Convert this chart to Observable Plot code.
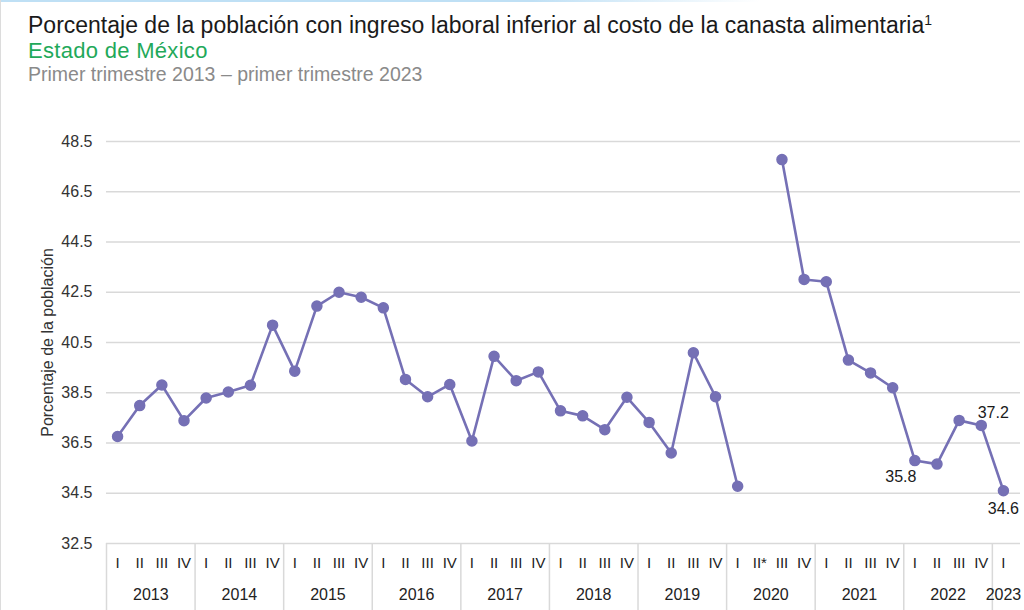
<!DOCTYPE html>
<html>
<head>
<meta charset="utf-8">
<script src="https://cdn.jsdelivr.net/npm/d3@7"></script>
<script src="https://cdn.jsdelivr.net/npm/@observablehq/plot@0.6"></script>
<style>
  html, body { margin: 0; padding: 0; background: #fff; }
  body { width: 1024px; height: 610px; position: relative; overflow: hidden; font-family: "Liberation Sans", Arial, sans-serif; }
  .topline { position: absolute; left: 0; top: 0; width: 760px; height: 2px; background: linear-gradient(to right, #bfe0f5 0%, #bfe0f5 70%, rgba(191,224,245,0) 100%); }
  .leftline { position: absolute; left: 0; top: 0; width: 1px; height: 610px; background: #dcdcdc; }
  .t { position: absolute; left: 28px; white-space: nowrap; line-height: 1; }
  #title { top: 14px; font-size: 23px; color: #1a1a1a; }
  #title sup { font-size: 14px; vertical-align: 8px; line-height: 0; }
  #sub { top: 40px; font-size: 22px; color: #1fa95a; letter-spacing: 0.3px; }
  #sub2 { top: 64.5px; font-size: 19.5px; color: #8a8a8a; }
  #chart { position: absolute; left: 0; top: 95px; }
  #chart svg text { font-family: "Liberation Sans", Arial, sans-serif; }
</style>
</head>
<body>
<div class="topline"></div>
<div class="leftline"></div>
<div class="t" id="title">Porcentaje de la población con ingreso laboral inferior al costo de la canasta alimentaria<sup>1</sup></div>
<div class="t" id="sub">Estado de México</div>
<div class="t" id="sub2">Primer trimestre 2013 – primer trimestre 2023</div>
<div id="chart"></div>
<script>
const years = [2013, 2014, 2015, 2016, 2017, 2018, 2019, 2020, 2021, 2022, 2023];
const quarterLabels = [
  "I","II","III","IV", "I","II","III","IV", "I","II","III","IV", "I","II","III","IV",
  "I","II","III","IV", "I","II","III","IV", "I","II","III","IV", "I","II*","III","IV",
  "I","II","III","IV", "I","II","III","IV", "I"
];
const values = [
  36.76, 37.99, 38.81, 37.39,
  38.29, 38.53, 38.80, 41.19,
  39.36, 41.95, 42.50, 42.30,
  41.88, 39.03, 38.34, 38.83,
  36.58, 39.95, 38.98, 39.33,
  37.78, 37.58, 37.03, 38.32,
  37.32, 36.10, 40.09, 38.34,
  34.78, null, 47.78, 43.01,
  42.92, 39.80, 39.29, 38.70,
  35.80, 35.66, 37.40, 37.20,
  34.60
];
const labeled = [
  {i: 36, text: "35.8"},
  {i: 39, text: "37.2"},
  {i: 40, text: "34.6"}
];
const yTicks = [32.5, 34.5, 36.5, 38.5, 40.5, 42.5, 44.5, 46.5, 48.5];

const data = values.map((v, i) => ({i, v, q: quarterLabels[i], year: years[Math.floor(i / 4)]}));
const yearMarks = years.map((y) => {
  const idx = data.filter(d => d.year === y).map(d => d.i);
  return {year: y, mid: (d3.min(idx) + d3.max(idx)) / 2};
});
const boundaries = years.map((y, k) => k * 4 - 0.5);
const lab = labeled.map(l => ({...l, v: values[l.i]}));

const purple = "#7570b5";
const grid = "#d9d9d9";
const ff = "Liberation Sans, Arial, sans-serif";

const chart = Plot.plot({
  width: 1024,
  height: 515,
  marginTop: 46,
  marginBottom: 67,
  marginLeft: 106,
  marginRight: 4,
  style: {fontFamily: ff, fontSize: "16px", color: "#333", background: "transparent"},
  x: {domain: [-0.5, 40.5], range: [106, 1014], axis: null},
  y: {domain: [32.5, 48.5]},
  marks: [
    Plot.gridY(yTicks.filter(t => t > 32.5), {stroke: grid, strokeOpacity: 1, strokeWidth: 1.5}),
    Plot.ruleY([32.5], {stroke: grid, strokeWidth: 1.5}),
    Plot.axisY({
      ticks: yTicks, tickFormat: d3.format(".1f"), tickSize: 0, tickPadding: 14,
      fontSize: 16, fontFamily: ff, fill: "#333",
      label: "Porcentaje de la población", labelAnchor: "center", labelArrow: "none", labelOffset: 65
    }),
    Plot.axisX({ticks: boundaries, tickSize: 67, tickFormat: () => "", stroke: grid, strokeWidth: 1.5}),
    Plot.text(data, {x: "i", text: "q", frameAnchor: "bottom", dy: 24, fontSize: 15, fontFamily: ff, fill: "#222"}),
    Plot.text(yearMarks, {x: "mid", text: d => String(d.year), frameAnchor: "bottom", dy: 56, fontSize: 16, fontFamily: ff, fill: "#222"}),
    Plot.line(data, {x: "i", y: "v", stroke: purple, strokeWidth: 2.6}),
    Plot.dot(data.filter(d => d.v != null), {x: "i", y: "v", r: 5, fill: purple, stroke: purple}),
    Plot.text(lab.filter(d => d.i === 36), {x: "i", y: "v", text: "text", dx: -14, dy: 16, fontSize: 16, fontFamily: ff, fill: "#1a1a1a"}),
    Plot.text(lab.filter(d => d.i === 39), {x: "i", y: "v", text: "text", dx: 12, dy: -13, fontSize: 16, fontFamily: ff, fill: "#1a1a1a"}),
    Plot.text(lab.filter(d => d.i === 40), {x: "i", y: "v", text: "text", dx: 0, dy: 18, fontSize: 16, fontFamily: ff, fill: "#1a1a1a"})
  ]
});
document.getElementById("chart").appendChild(chart);
</script>
</body>
</html>
